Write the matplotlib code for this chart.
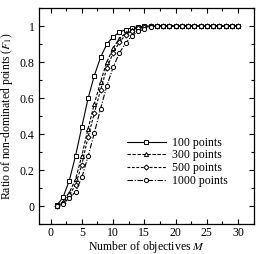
import matplotlib
matplotlib.use("Agg")
import matplotlib.pyplot as plt
from matplotlib.ticker import MultipleLocator

plt.rcParams['font.family'] = ['Liberation Serif', 'DejaVu Serif']
plt.rcParams['mathtext.fontset'] = 'stix'
plt.rcParams['font.size'] = 8.5

M = list(range(1, 31))
tail = [1.0] * 14
pts100 = [0.005, 0.05, 0.143, 0.28, 0.44, 0.598, 0.725, 0.826, 0.9, 0.94,
          0.965, 0.98, 0.99, 0.996, 0.999, 1.0] + tail
pts300 = [0.003, 0.025, 0.075, 0.15, 0.28, 0.43, 0.568, 0.69, 0.8, 0.876,
          0.93, 0.96, 0.98, 0.99, 0.997, 1.0] + tail
pts500 = [0.002, 0.018, 0.06, 0.12, 0.23, 0.385, 0.517, 0.645, 0.766, 0.85,
          0.91, 0.95, 0.975, 0.987, 0.994, 0.998] + tail
pts1000 = [0.0, 0.013, 0.046, 0.08, 0.16, 0.277, 0.406, 0.542, 0.668, 0.77,
           0.85, 0.905, 0.945, 0.97, 0.983, 0.993] + tail
labels = ['100 points', '300 points', '500 points', '1000 points']

fig = plt.figure(figsize=(2.61, 2.54), dpi=100)
ax = fig.add_axes([0.1506, 0.1169, 0.8238, 0.8516])

mk = dict(color='black', lw=0.8, markersize=3, markerfacecolor='white', markeredgewidth=0.7)
ax.plot(M, pts100, ls='-', marker='s', label=labels[0], **mk)
ax.plot(M, pts300, ls=(0, (3, 1.5)), marker='^', label=labels[1], **mk)
ax.plot(M, pts500, ls=(0, (2.5, 1.5)), marker='D', label=labels[2], **dict(mk, markersize=2.6))
ax.plot(M, pts1000, ls=(0, (5, 1.5, 1, 1.5)), marker='o', label=labels[3], **mk)

ax.set_xlim(-1.8, 32.6)
ax.set_ylim(-0.1, 1.1)
ax.xaxis.set_major_locator(MultipleLocator(5))
ax.xaxis.set_minor_locator(MultipleLocator(2.5))
ax.yaxis.set_minor_locator(MultipleLocator(0.1))
ax.set_yticks([0, 0.2, 0.4, 0.6, 0.8, 1.0])
ax.set_yticklabels(['0', '0.2', '0.4', '0.6', '0.8', '1'])
ax.tick_params(which='both', direction='in', top=True, right=True, width=0.8)
ax.tick_params(which='major', length=3.5)
ax.tick_params(which='minor', length=2)
ax.tick_params(axis='x', pad=2)
for s in ax.spines.values():
    s.set_linewidth(0.9)

ax.set_xlabel('Number of objectives $\\mathit{M}$', labelpad=0)
ax.set_ylabel('Ratio of non-dominated points ($\\mathit{F}_1$)', labelpad=3)

ax.legend(loc='lower right', bbox_to_anchor=(0.925, 0.125), frameon=False,
          handlelength=3.3, handletextpad=0.5, labelspacing=0.05)

fig.savefig('out.png', dpi=100)
